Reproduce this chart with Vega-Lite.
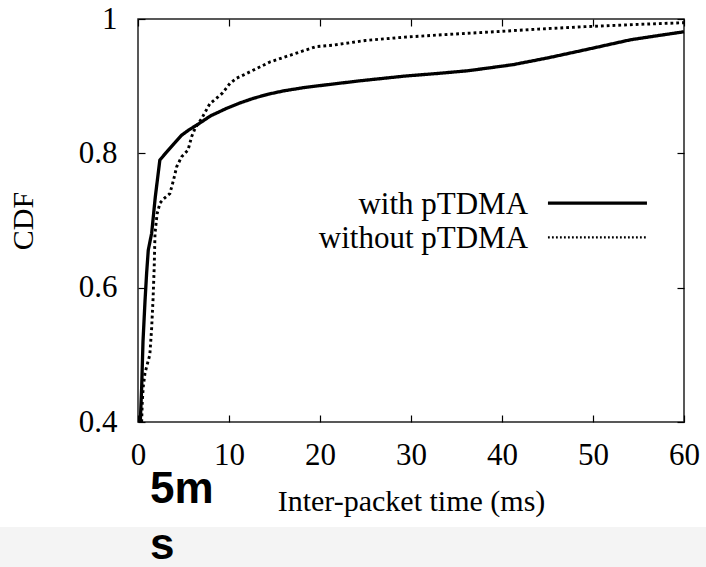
{
  "$schema": "https://vega.github.io/schema/vega-lite/v6.json",
  "width": 546,
  "height": 403,
  "autosize": {"type": "none"},
  "padding": {"left": 138, "top": 19, "right": 22, "bottom": 145},
  "background": "white",
  "config": {
    "view": {"stroke": "#222", "strokeWidth": 1.5},
    "axis": {
      "domain": false, "grid": false, "labelFlush": false,
      "labelFont": "Liberation Serif", "labelFontSize": 31, "labelColor": "#000",
      "titleFont": "Liberation Serif", "titleFontSize": 30, "titleFontWeight": "normal", "titleColor": "#000",
      "tickColor": "#000", "tickSize": -7, "tickWidth": 1.2
    }
  },
  "datasets": {
    "curves": [
      {"series": "with pTDMA", "t": 0.25, "cdf": 0.40},
      {"series": "with pTDMA", "t": 0.4, "cdf": 0.45},
      {"series": "with pTDMA", "t": 0.55, "cdf": 0.52},
      {"series": "with pTDMA", "t": 0.77, "cdf": 0.58},
      {"series": "with pTDMA", "t": 0.95, "cdf": 0.622},
      {"series": "with pTDMA", "t": 1.13, "cdf": 0.656},
      {"series": "with pTDMA", "t": 1.5, "cdf": 0.681},
      {"series": "with pTDMA", "t": 1.9, "cdf": 0.735},
      {"series": "with pTDMA", "t": 2.4, "cdf": 0.79},
      {"series": "with pTDMA", "t": 3.15, "cdf": 0.802},
      {"series": "with pTDMA", "t": 4.0, "cdf": 0.815},
      {"series": "with pTDMA", "t": 4.8, "cdf": 0.827},
      {"series": "with pTDMA", "t": 5.6, "cdf": 0.835},
      {"series": "with pTDMA", "t": 6.45, "cdf": 0.842},
      {"series": "with pTDMA", "t": 8.0, "cdf": 0.856},
      {"series": "with pTDMA", "t": 9.75, "cdf": 0.867},
      {"series": "with pTDMA", "t": 11.2, "cdf": 0.875},
      {"series": "with pTDMA", "t": 12.7, "cdf": 0.882},
      {"series": "with pTDMA", "t": 14.3, "cdf": 0.888},
      {"series": "with pTDMA", "t": 16, "cdf": 0.893},
      {"series": "with pTDMA", "t": 18.3, "cdf": 0.898},
      {"series": "with pTDMA", "t": 20.7, "cdf": 0.902},
      {"series": "with pTDMA", "t": 24.4, "cdf": 0.908},
      {"series": "with pTDMA", "t": 29.3, "cdf": 0.915},
      {"series": "with pTDMA", "t": 33, "cdf": 0.919},
      {"series": "with pTDMA", "t": 36.3, "cdf": 0.923},
      {"series": "with pTDMA", "t": 41.2, "cdf": 0.932},
      {"series": "with pTDMA", "t": 45, "cdf": 0.942},
      {"series": "with pTDMA", "t": 49.1, "cdf": 0.954},
      {"series": "with pTDMA", "t": 54.1, "cdf": 0.969},
      {"series": "with pTDMA", "t": 57, "cdf": 0.975},
      {"series": "with pTDMA", "t": 60, "cdf": 0.981},
      {"series": "without pTDMA", "t": 0.4, "cdf": 0.40},
      {"series": "without pTDMA", "t": 0.47, "cdf": 0.43},
      {"series": "without pTDMA", "t": 0.58, "cdf": 0.453},
      {"series": "without pTDMA", "t": 0.77, "cdf": 0.473},
      {"series": "without pTDMA", "t": 1.1, "cdf": 0.49},
      {"series": "without pTDMA", "t": 1.3, "cdf": 0.50},
      {"series": "without pTDMA", "t": 1.5, "cdf": 0.54},
      {"series": "without pTDMA", "t": 1.65, "cdf": 0.582},
      {"series": "without pTDMA", "t": 1.78, "cdf": 0.63},
      {"series": "without pTDMA", "t": 1.87, "cdf": 0.681},
      {"series": "without pTDMA", "t": 2.1, "cdf": 0.71},
      {"series": "without pTDMA", "t": 2.42, "cdf": 0.726},
      {"series": "without pTDMA", "t": 2.8, "cdf": 0.732},
      {"series": "without pTDMA", "t": 3.5, "cdf": 0.740},
      {"series": "without pTDMA", "t": 3.9, "cdf": 0.76},
      {"series": "without pTDMA", "t": 4.25, "cdf": 0.78},
      {"series": "without pTDMA", "t": 4.8, "cdf": 0.795},
      {"series": "without pTDMA", "t": 5.5, "cdf": 0.805},
      {"series": "without pTDMA", "t": 5.9, "cdf": 0.825},
      {"series": "without pTDMA", "t": 6.3, "cdf": 0.838},
      {"series": "without pTDMA", "t": 7.0, "cdf": 0.852},
      {"series": "without pTDMA", "t": 7.9, "cdf": 0.874},
      {"series": "without pTDMA", "t": 8.8, "cdf": 0.884},
      {"series": "without pTDMA", "t": 9.3, "cdf": 0.89},
      {"series": "without pTDMA", "t": 10.1, "cdf": 0.904},
      {"series": "without pTDMA", "t": 10.85, "cdf": 0.912},
      {"series": "without pTDMA", "t": 11.8, "cdf": 0.918},
      {"series": "without pTDMA", "t": 12.7, "cdf": 0.924},
      {"series": "without pTDMA", "t": 14.5, "cdf": 0.936},
      {"series": "without pTDMA", "t": 16.7, "cdf": 0.946},
      {"series": "without pTDMA", "t": 19.6, "cdf": 0.959},
      {"series": "without pTDMA", "t": 21.4, "cdf": 0.961},
      {"series": "without pTDMA", "t": 25, "cdf": 0.968},
      {"series": "without pTDMA", "t": 29.3, "cdf": 0.973},
      {"series": "without pTDMA", "t": 34, "cdf": 0.977},
      {"series": "without pTDMA", "t": 39.2, "cdf": 0.981},
      {"series": "without pTDMA", "t": 44, "cdf": 0.985},
      {"series": "without pTDMA", "t": 49.1, "cdf": 0.9886},
      {"series": "without pTDMA", "t": 55, "cdf": 0.992},
      {"series": "without pTDMA", "t": 60, "cdf": 0.9945}
    ]
  },
  "layer": [
    {
      "data": {"values": [{"band": "footer"}]},
      "mark": {"type": "rect", "fill": "#f4f4f4"},
      "encoding": {
        "x": {"datum": -16, "type": "quantitative", "scale": {"domain": [0, 60], "nice": false, "zero": false}, "axis": null},
        "x2": {"datum": 63},
        "y": {"datum": 0.2437, "type": "quantitative", "scale": {"domain": [0.4, 1], "nice": false, "zero": false}, "axis": null},
        "y2": {"datum": 0.17}
      }
    },
    {
      "data": {"name": "curves"},
      "mark": {"type": "line", "color": "#000", "strokeCap": "butt", "strokeJoin": "round"},
      "encoding": {
        "x": {"field": "t", "type": "quantitative", "scale": {"domain": [0, 60], "nice": false, "zero": false},
              "axis": {"orient": "bottom", "values": [0, 10, 20, 30, 40, 50, 60], "title": "Inter-packet time (ms)", "labelPadding": 25, "titlePadding": 16}},
        "y": {"field": "cdf", "type": "quantitative", "scale": {"domain": [0.4, 1], "nice": false, "zero": false},
              "axis": {"orient": "left", "values": [0.4, 0.6, 0.8, 1], "format": "~g", "title": "CDF", "labelPadding": 28, "titlePadding": 40}},
        "detail": {"field": "series"},
        "strokeDash": {"field": "series", "type": "nominal", "scale": {"domain": ["with pTDMA", "without pTDMA"], "range": [[1, 0], [2.8, 3]]}, "legend": null},
        "strokeWidth": {"field": "series", "type": "nominal", "scale": {"domain": ["with pTDMA", "without pTDMA"], "range": [3.3, 2.9]}, "legend": null}
      }
    },
    {
      "data": {"values": [{"series": "with pTDMA"}]},
      "mark": {"type": "rule", "color": "#000", "strokeWidth": 3.3},
      "encoding": {
        "x": {"datum": 45.05, "type": "quantitative", "scale": {"domain": [0, 60], "nice": false, "zero": false},
              "axis": {"orient": "top", "values": [0, 10, 20, 30, 40, 50, 60], "labels": false, "title": null}},
        "x2": {"datum": 55.93},
        "y": {"datum": 0.726, "type": "quantitative", "scale": {"domain": [0.4, 1], "nice": false, "zero": false},
              "axis": {"orient": "right", "values": [0.4, 0.6, 0.8, 1], "labels": false, "title": null}}
      }
    },
    {
      "data": {"values": [{"series": "without pTDMA"}]},
      "mark": {"type": "rule", "color": "#000", "strokeWidth": 2.2, "strokeDash": [1.8, 2.2]},
      "encoding": {
        "x": {"datum": 45.05, "type": "quantitative", "scale": {"domain": [0, 60], "nice": false, "zero": false}, "axis": null},
        "x2": {"datum": 55.93},
        "y": {"datum": 0.675, "type": "quantitative", "scale": {"domain": [0.4, 1], "nice": false, "zero": false}, "axis": null}
      }
    },
    {
      "data": {"values": [{"series": "with pTDMA"}]},
      "mark": {"type": "text", "align": "right", "baseline": "middle", "font": "Liberation Serif", "fontSize": 31, "color": "#000", "dy": 2},
      "encoding": {
        "x": {"datum": 42.86, "type": "quantitative", "scale": {"domain": [0, 60], "nice": false, "zero": false}, "axis": null},
        "y": {"datum": 0.726, "type": "quantitative", "scale": {"domain": [0.4, 1], "nice": false, "zero": false}, "axis": null},
        "text": {"field": "series"}
      }
    },
    {
      "data": {"values": [{"series": "without pTDMA"}]},
      "mark": {"type": "text", "align": "right", "baseline": "middle", "font": "Liberation Serif", "fontSize": 31, "color": "#000", "dy": 2},
      "encoding": {
        "x": {"datum": 42.86, "type": "quantitative", "scale": {"domain": [0, 60], "nice": false, "zero": false}, "axis": null},
        "y": {"datum": 0.675, "type": "quantitative", "scale": {"domain": [0.4, 1], "nice": false, "zero": false}, "axis": null},
        "text": {"field": "series"}
      }
    },
    {
      "data": {"values": [{"note": "5ms"}]},
      "mark": {"type": "text", "text": ["5m", "s"], "align": "left", "baseline": "alphabetic", "font": "Liberation Sans", "fontWeight": "bold", "fontSize": 44, "lineHeight": 56, "color": "#000"},
      "encoding": {
        "x": {"datum": 1.32, "type": "quantitative", "scale": {"domain": [0, 60], "nice": false, "zero": false}, "axis": null},
        "y": {"datum": 0.2794, "type": "quantitative", "scale": {"domain": [0.4, 1], "nice": false, "zero": false}, "axis": null}
      }
    }
  ],
  "resolve": {"axis": {"x": "independent", "y": "independent"}}
}
